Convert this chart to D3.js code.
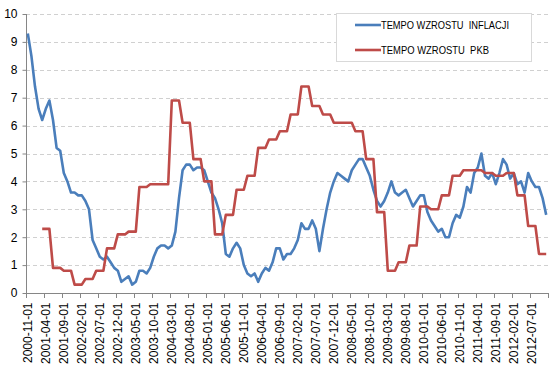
<!DOCTYPE html>
<html>
<head>
<meta charset="utf-8">
<script src="https://cdn.jsdelivr.net/npm/d3@7"></script>
<style>
  html, body { margin: 0; padding: 0; background: #fff; }
  svg { display: block; font-family: "Liberation Sans", Arial, sans-serif; }
</style>
</head>
<body>
<svg id="chart"></svg>
<script>
// months 2000-11 .. 2012-11
const fmtMonth = d3.utcFormat("%Y-%m-%d");
const months = d3.utcMonth
    .range(new Date(Date.UTC(2000, 10, 1)), new Date(Date.UTC(2012, 11, 1)))
    .map(fmtMonth);

// TEMPO WZROSTU INFLACJI (monthly)
const inflacja = [
    9.3, 8.5,
    7.4, 6.6, 6.2, 6.6, 6.9, 6.2, 5.2, 5.1, 4.3, 4.0, 3.6, 3.6,
    3.5, 3.5, 3.3, 3.0, 1.9, 1.6, 1.3, 1.2, 1.3, 1.1, 0.9, 0.8,
    0.4, 0.5, 0.6, 0.3, 0.4, 0.8, 0.8, 0.7, 0.9, 1.3, 1.6, 1.7,
    1.7, 1.6, 1.7, 2.2, 3.4, 4.4, 4.6, 4.6, 4.4, 4.5, 4.5, 4.4,
    4.0, 3.6, 3.4, 3.0, 2.5, 1.4, 1.3, 1.6, 1.8, 1.6, 1.0, 0.7,
    0.6, 0.7, 0.4, 0.7, 0.9, 0.8, 1.1, 1.6, 1.6, 1.2, 1.4, 1.4,
    1.6, 1.9, 2.5, 2.3, 2.3, 2.6, 2.3, 1.5, 2.3, 3.0, 3.6, 4.0,
    4.3, 4.2, 4.1, 4.0, 4.4, 4.6, 4.8, 4.8, 4.5, 4.2, 3.7, 3.3,
    3.1, 3.3, 3.6, 4.0, 3.6, 3.5, 3.6, 3.7, 3.4, 3.1, 3.3, 3.5,
    3.5, 2.9, 2.6, 2.4, 2.2, 2.3, 2.0, 2.0, 2.5, 2.8, 2.7, 3.1,
    3.8, 3.6, 4.3, 4.5, 5.0, 4.2, 4.1, 4.3, 3.9, 4.3, 4.8, 4.6,
    4.1, 4.3, 3.9, 4.0, 3.6, 4.3, 4.0, 3.8, 3.8, 3.4, 2.8
];

// TEMPO WZROSTU PKB (quarterly figure shown on each month)
const pkb = [
    null, null,
    null, null, 2.3, 2.3, 2.3, 0.9, 0.9, 0.9, 0.8, 0.8, 0.8, 0.3,
    0.3, 0.3, 0.5, 0.5, 0.5, 0.8, 0.8, 0.8, 1.6, 1.6, 1.6, 2.1,
    2.1, 2.1, 2.2, 2.2, 2.2, 3.8, 3.8, 3.8, 3.9, 3.9, 3.9, 3.9,
    3.9, 3.9, 6.9, 6.9, 6.9, 6.1, 6.1, 6.1, 4.8, 4.8, 4.8, 4.0,
    4.0, 4.0, 2.1, 2.1, 2.1, 2.8, 2.8, 2.8, 3.7, 3.7, 3.7, 4.2,
    4.2, 4.2, 5.2, 5.2, 5.2, 5.5, 5.5, 5.5, 5.8, 5.8, 5.8, 6.4,
    6.4, 6.4, 7.4, 7.4, 7.4, 6.7, 6.7, 6.7, 6.4, 6.4, 6.4, 6.1,
    6.1, 6.1, 6.1, 6.1, 6.1, 5.8, 5.8, 5.8, 4.8, 4.8, 4.8, 2.9,
    2.9, 2.9, 0.8, 0.8, 0.8, 1.1, 1.1, 1.1, 1.7, 1.7, 1.7, 3.1,
    3.1, 3.1, 3.0, 3.0, 3.0, 3.5, 3.5, 3.5, 4.2, 4.2, 4.2, 4.4,
    4.4, 4.4, 4.4, 4.4, 4.4, 4.3, 4.3, 4.3, 4.2, 4.2, 4.2, 4.3,
    4.3, 4.3, 3.5, 3.5, 3.5, 2.4, 2.4, 2.4, 1.4, 1.4, 1.4
];

const seriesNames = ["TEMPO WZROSTU  INFLACJI", "TEMPO WZROSTU  PKB"];
const seriesColors = ["#4a7ebb", "#be4b48"];
const yTicks = [0, 1, 2, 3, 4, 5, 6, 7, 8, 9, 10];

const width = 552, height = 374;
const plotLeft = 26, plotRight = 548, plotTop = 14, plotBottom = 293;

const svg = d3.select("#chart")
    .attr("width", width)
    .attr("height", height);

const x = d3.scaleBand().domain(months).range([plotLeft, plotRight]);
const y = d3.scaleLinear().domain([0, 10]).range([plotBottom, plotTop]);
const cx = d => x(d) + x.bandwidth() / 2;

// gridlines
svg.append("g")
    .selectAll("line")
    .data(yTicks.filter(d => d > 0))
    .join("line")
    .attr("x1", plotLeft).attr("x2", plotRight)
    .attr("y1", d => Math.round(y(d)) + 0.5)
    .attr("y2", d => Math.round(y(d)) + 0.5)
    .attr("stroke", "#d0d0d0")
    .attr("stroke-dasharray", "4,3");

// y axis
const yAxis = svg.append("g")
    .attr("transform", `translate(${plotLeft + 0.5},0)`)
    .call(d3.axisLeft(y).tickValues(yTicks).tickSize(4).tickPadding(5).tickFormat(d3.format("d")));
yAxis.select(".domain").attr("stroke", "#868686").attr("d", `M0,${y(0)}V${y(10)}`);
yAxis.selectAll(".tick line").attr("stroke", "#868686");
yAxis.selectAll(".tick text")
    .attr("font-size", 12)
    .attr("fill", "#000")
    .attr("font-family", "Liberation Sans, Arial, sans-serif");

// x axis labels (every 5th month)
const labelMonths = months.filter((d, i) => i % 5 === 0);
const xAxis = svg.append("g")
    .attr("transform", `translate(0,${plotBottom + 0.5})`)
    .call(d3.axisBottom(x).tickValues(labelMonths).tickSize(0).tickPadding(0));
xAxis.select(".domain").remove();
xAxis.selectAll(".tick text")
    .attr("transform", "rotate(-90)")
    .attr("x", -9)
    .attr("y", 0)
    .attr("dy", "0.35em")
    .attr("text-anchor", "end")
    .attr("font-size", 12)
    .attr("fill", "#000")
    .attr("font-family", "Liberation Sans, Arial, sans-serif");

// x axis line and tick marks at category boundaries
svg.append("line")
    .attr("x1", plotLeft).attr("x2", plotRight)
    .attr("y1", plotBottom + 0.5).attr("y2", plotBottom + 0.5)
    .attr("stroke", "#868686");
const tickEdges = labelMonths.map(d => x(d)).concat([plotRight]);
svg.append("g")
    .selectAll("line")
    .data(tickEdges)
    .join("line")
    .attr("x1", d => Math.round(d) + 0.5).attr("x2", d => Math.round(d) + 0.5)
    .attr("y1", plotBottom).attr("y2", plotBottom + 5)
    .attr("stroke", "#868686");

// series lines
const line = d3.line()
    .defined(d => d.v != null)
    .x(d => cx(d.m))
    .y(d => y(d.v));

[inflacja, pkb].forEach((vals, k) => {
    svg.append("path")
        .datum(months.map((m, i) => ({ m, v: vals[i] })))
        .attr("fill", "none")
        .attr("stroke", seriesColors[k])
        .attr("stroke-width", 2.6)
        .attr("stroke-linejoin", "round")
        .attr("d", line);
});

// legend
const legend = svg.append("g");
legend.append("rect")
    .attr("x", 336.5).attr("y", 13.5)
    .attr("width", 195).attr("height", 48)
    .attr("fill", "#fff")
    .attr("stroke", "#d9d9d9");
const legendWidths = [128, 108];
seriesNames.forEach((name, k) => {
    const ly = 25 + k * 25;
    legend.append("line")
        .attr("x1", 355).attr("x2", 381)
        .attr("y1", ly).attr("y2", ly)
        .attr("stroke", seriesColors[k])
        .attr("stroke-width", 2.6);
    legend.append("text")
        .attr("x", 381).attr("y", ly)
        .attr("dy", "0.35em")
        .attr("font-size", 11)
        .attr("fill", "#000")
        .attr("textLength", legendWidths[k])
        .attr("lengthAdjust", "spacingAndGlyphs")
        .style("white-space", "pre")
        .text(name);
});
</script>
</body>
</html>
